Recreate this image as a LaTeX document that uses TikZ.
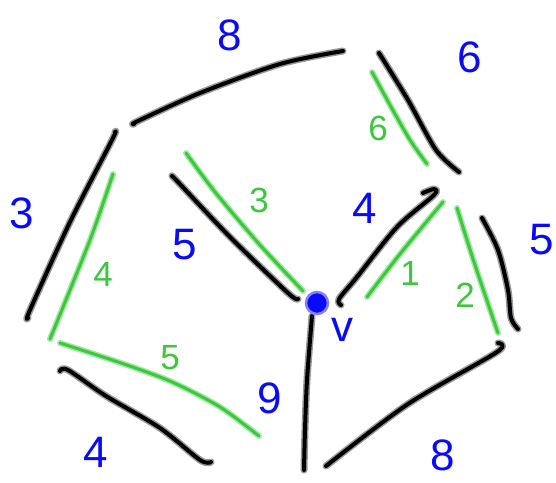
\documentclass[tikz,border=0pt]{standalone}
\usepackage{fontspec}
\setmainfont{Liberation Sans}
\definecolor{inkg}{RGB}{60,200,60}
\definecolor{halog}{RGB}{165,232,165}
\definecolor{inkb}{RGB}{10,10,250}
\definecolor{halob}{RGB}{130,130,255}
\begin{document}
\begin{tikzpicture}[x=1pt,y=-1pt,
  blk/.style={preaction={draw=black!40,line width=7pt,line cap=round,line join=round},
              draw=black,line width=4pt,line cap=round,line join=round},
  grn/.style={preaction={draw=halog,line width=6pt,line cap=round,line join=round},
              draw=inkg,line width=3pt,line cap=round,line join=round},
  bl/.style={text=inkb,font=\fontsize{44}{44}\selectfont,inner sep=0pt},
  gl/.style={text=inkg,font=\fontsize{35}{35}\selectfont,inner sep=0pt}]
\useasboundingbox[fill=white] (0,0) rectangle (556,482);

% black strokes
\draw[blk] plot[smooth] coordinates {(134,124)(138,121)(200,93)(280,64)(343,51)};
\draw[blk] plot[smooth] coordinates {(379,53)(408,100)(436,150)(459,172)};
\draw[blk] plot[smooth] coordinates {(115,132)(112,140)(70,222)(30,310)(28,318)};
\draw[blk] plot[smooth] coordinates {(60,371)(68,370)(106,396)(160,428)(200,460)(211,462)};
\draw[blk] plot[smooth] coordinates {(172,176)(178,182)(230,237)(288,293)(298,299)};
\draw[blk] plot[smooth] coordinates {(341,305)(339,299)(357,277)(397,227)(434,195)(434,189)(423,193)};
\draw[blk] plot[smooth] coordinates {(482,218)(498,250)(508,290)(511,318)(518,329)};
\draw[blk] plot[smooth] coordinates {(312,316)(307,380)(305,430)(304,470)};
\draw[blk] plot[smooth] coordinates {(498,343)(497,352)(408,404)(326,466)};

% green strokes
\draw[grn] plot[smooth] coordinates {(372,72)(390,105)(410,140)(427,164)};
\draw[grn] plot[smooth] coordinates {(186,153)(215,192)(260,245)(303,291)};
\draw[grn] plot[smooth] coordinates {(113,174)(90,240)(50,339)};
\draw[grn] plot[smooth] coordinates {(60,343)(124,364)(172,382)(220,407)(259,436)};
\draw[grn] plot[smooth] coordinates {(367,297)(400,254)(443,202)};
\draw[grn] plot[smooth] coordinates {(457,208)(475,265)(498,333)};

% vertex v
\node[circle,fill=inkb,draw=halob,line width=2.5pt,minimum size=22pt,inner sep=0pt] (v) at (317,303) {};

% blue labels
\node[bl] (t8) at (230,35) {8};
\node[bl] (t6) at (470,57) {6};
\node[bl] (l3) at (22,213) {3};
\node[bl] (i4) at (365,208) {4};
\node[bl] (i5) at (185,245) {5};
\node[bl] (r5) at (542,240) {5};
\node[bl] (b9) at (270,398) {9};
\node[bl] (b4) at (96,452) {4};
\node[bl] (b8) at (443,455) {8};
\node[bl] (vl) at (342,330) {v};

% green labels
\node[gl] (g6) at (378,128) {6};
\node[gl] (g3) at (259,200) {3};
\node[gl] (g4) at (103,274) {4};
\node[gl] (g5) at (170,358) {5};
\node[gl] (g1) at (410,273) {1};
\node[gl] (g2) at (465,295) {2};
\end{tikzpicture}
\end{document}
